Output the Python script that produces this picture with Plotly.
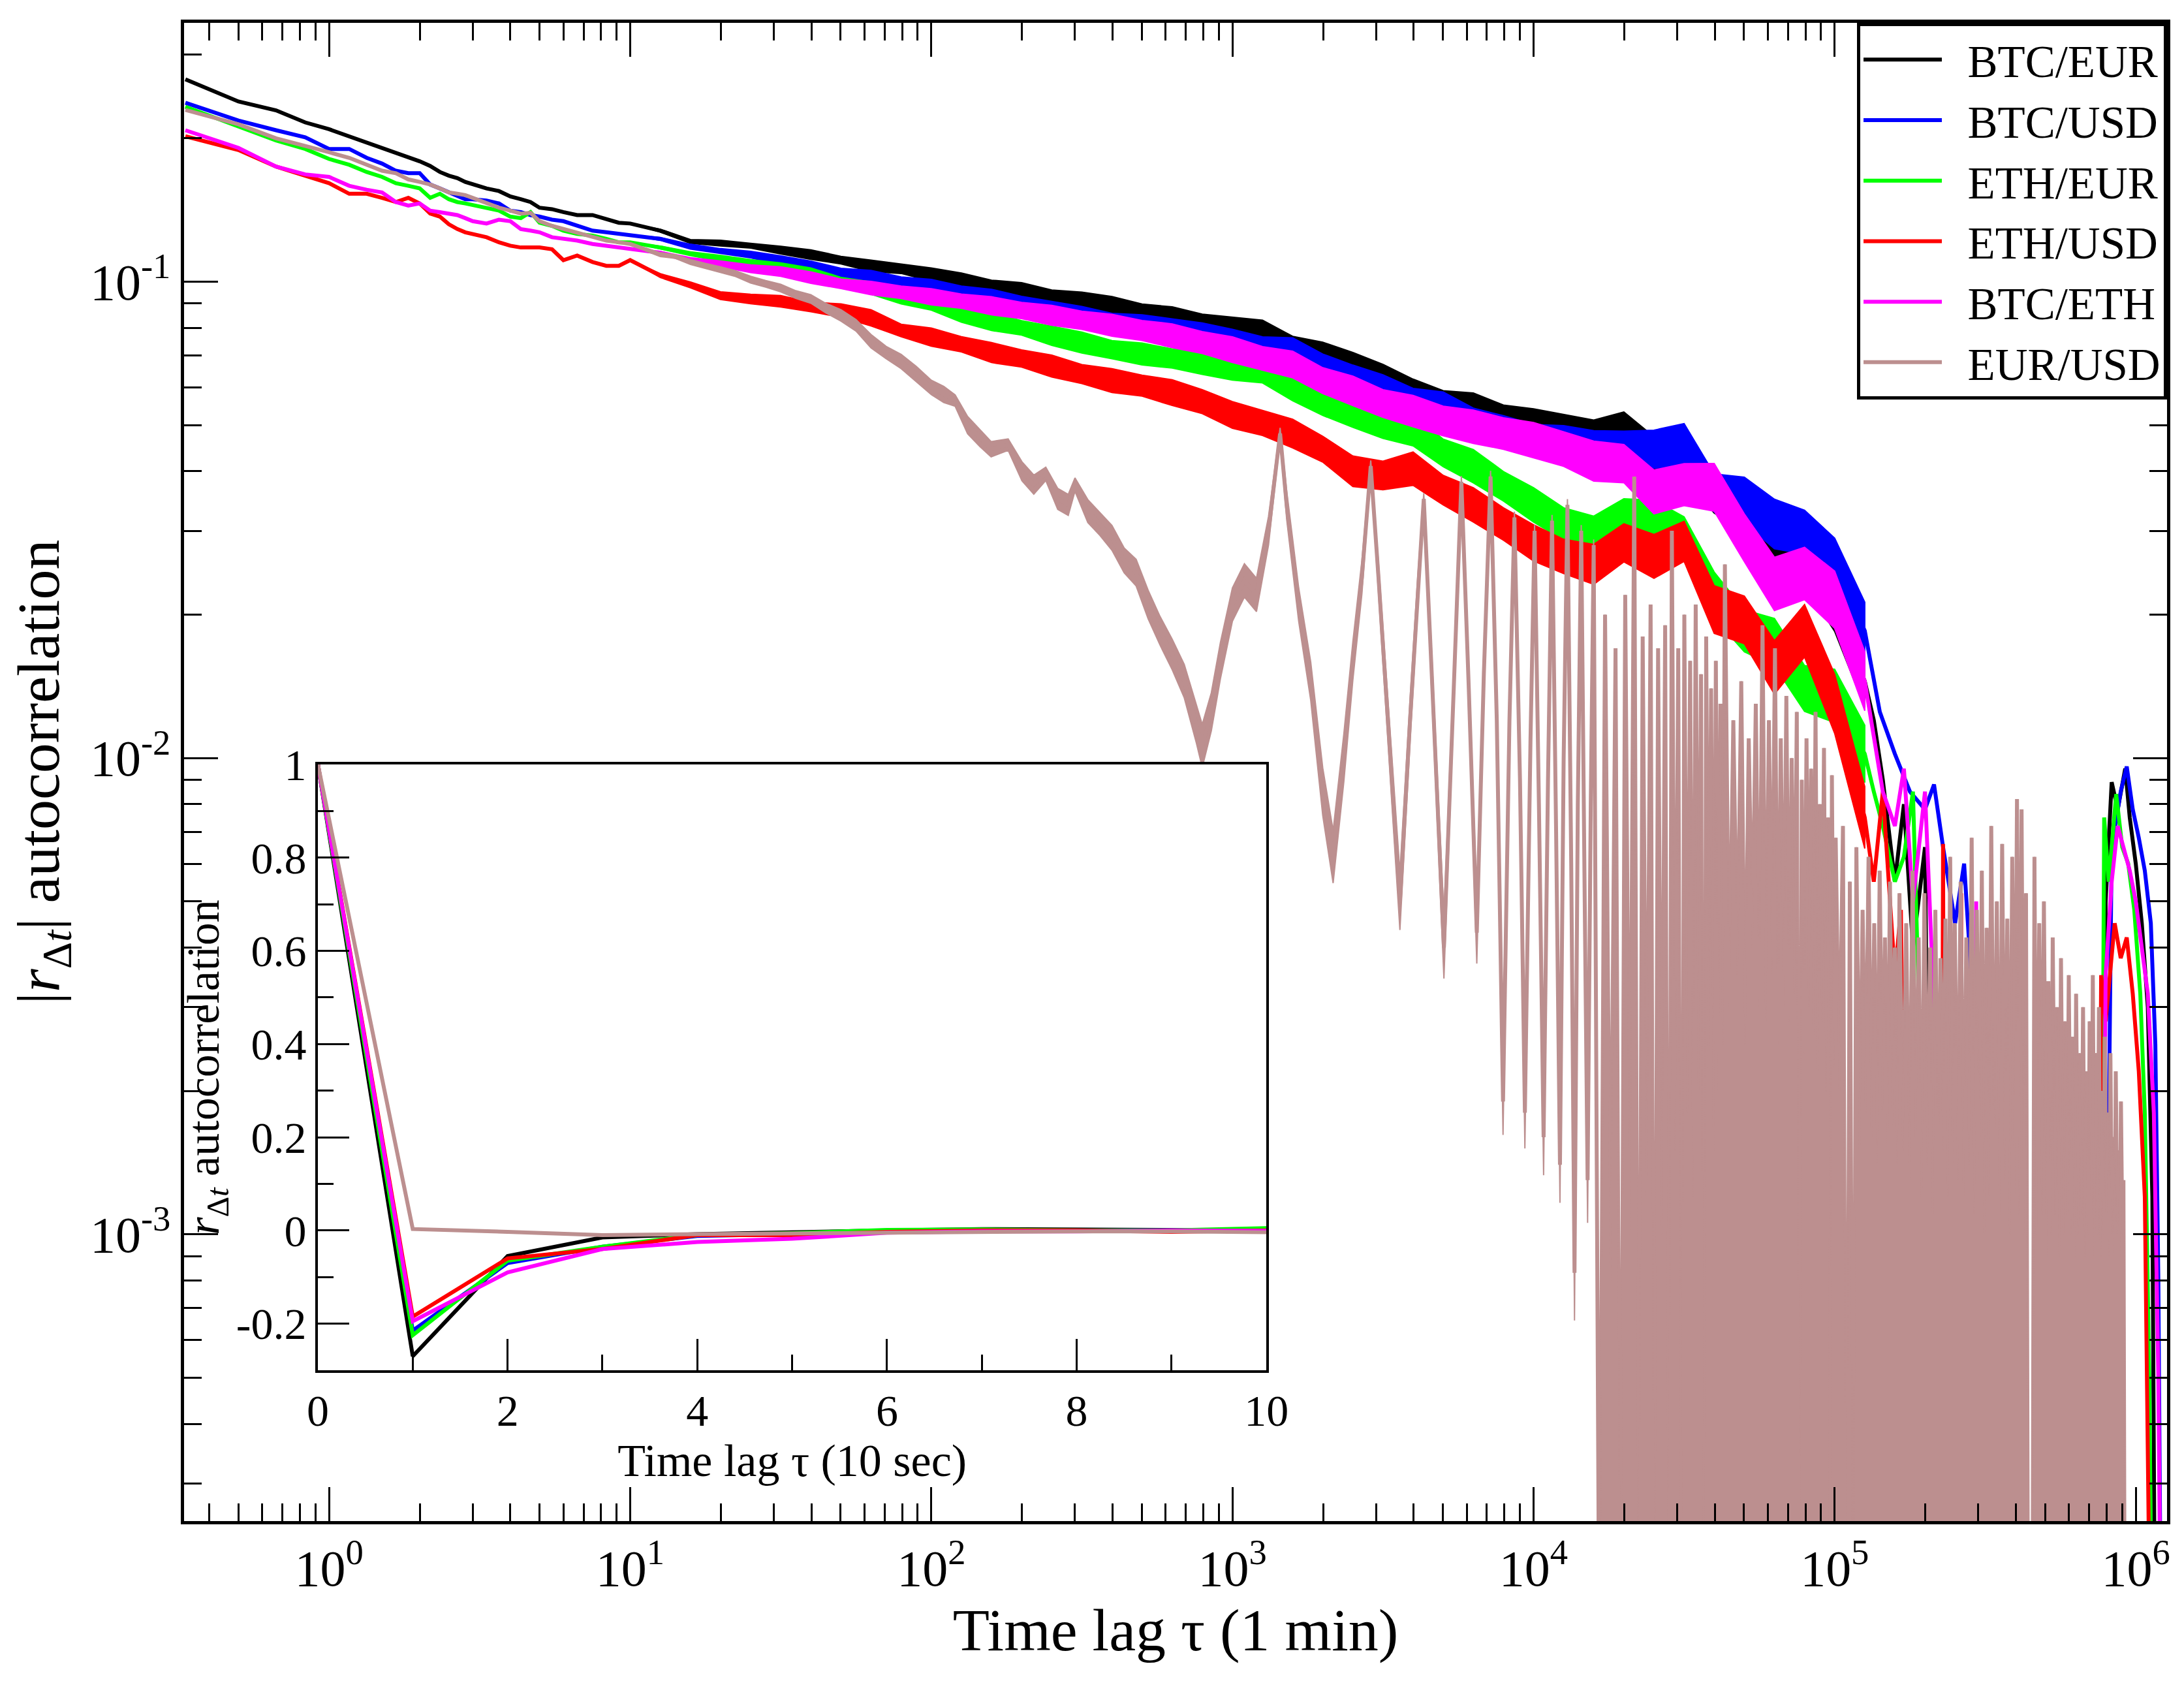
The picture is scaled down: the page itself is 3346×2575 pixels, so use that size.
import plotly.graph_objects as go

FONT = "Liberation Serif"

# ------------------------------------------------------------------
# Main panel data: time lag (minutes) and |r| autocorrelation
# ------------------------------------------------------------------
lag_short = [0.3333, 0.5, 0.6667, 0.8333, 1.0, 1.1667, 1.3333, 1.5, 1.6667, 1.8333,
             2.0, 2.1667, 2.3333, 2.5, 2.6667, 2.8333, 3.0, 3.3333, 3.6667, 4.0,
             4.3333, 4.6667, 5.0, 5.5, 6.0, 6.6667, 7.5, 8.3333, 9.1667, 10.0]

lag_band = [10, 12.59, 15.85, 19.95, 25.12, 31.62, 39.81, 50.12, 63.10, 79.43,
            100, 125.9, 158.5, 199.5, 251.2, 316.2, 398.1, 501.2, 631.0, 794.3,
            1000, 1259, 1585, 1995, 2512, 3162, 3981, 5012, 6310, 7943,
            10000, 12589, 15849, 19953, 25119, 31623, 39811, 50119, 63096, 79433,
            100000, 125893]

# BTC/EUR
btc_eur_short = [.266, .239, .229, .216, .209, .202, .196, .191, .186, .182, .179, .175, .170, .167, .165, .162, .160,
                 .157, .155, .151, .149, .147, .143, .142, .140, .138, .138, .135, .133, .1325]
btc_eur_mid = [.1325, .128, .1215, .1205, .119, .1165, .114, .111, .108, .1065,
               .1035, .1005, .098, .0955, .093, .091, .0885, .0865, .084, .082,
               .080, .078, .0735, .070, .0675, .063, .058, .056, .0545, .052,
               .0505, .0485, .0465, .0495, .0435, .042, .036, .0335, .0285, .026,
               .0207, .0145]
btc_eur_noise = [0, .003, .004, .006, .005, .008, .010, .008, .012, .010,
                 .014, .016, .012, .018, .014, .019, .022, .016, .023, .018,
                 .022, .027, .019, .028, .022, .027, .032, .023, .030, .025,
                 .030, .036, .042, .032, .036, .034, .042, .048, .040, .050,
                 .050, .055]
btc_eur_tail_lag = [134900, 144540, 158490, 169820, 181970, 199530, 213800, 758580, 794330, 831760,
                    870960, 922570, 954990, 1000000, 1047130, 1096480, 1135010, 1161450]
btc_eur_tail = [.012, .009, .0055, .008, .004, .0065, .0001, .0001, .005, .0089,
                .0078, .0095, .0075, .006, .0045, .003, .0012, .0001]

# BTC/USD
btc_usd_short = [.2375, .218, .208, .201, .190, .190, .182, .177, .171, .169, .169, .160, .157, .154, .151, .149, .149,
                 .148, .146, .141, .140, .138, .137, .135, .134, .131, .128, .127, .126, .1253]
btc_usd_mid = [.1253, .123, .1185, .116, .114, .111, .1085, .104, .1025, .100,
               .0975, .095, .0925, .090, .087, .0845, .0825, .081, .080, .0775,
               .075, .073, .0715, .067, .0625, .0595, .0565, .0545, .051, .0485,
               .0466, .0458, .045, .0445, .0445, .0455, .036, .0348, .031, .0298,
               .0255, .0185]
btc_usd_noise = [0, .003, .005, .005, .007, .009, .008, .011, .013, .010,
                 .016, .013, .018, .015, .019, .021, .017, .022, .019, .024,
                 .025, .021, .028, .022, .029, .030, .024, .032, .027, .033,
                 .032, .037, .034, .038, .040, .044, .040, .048, .052, .046,
                 .055, .060]
btc_usd_tail_lag = [141250, 158490, 177830, 199530, 213800, 229090, 251190, 269150, 288400, 316230,
                    776250, 831760, 891250, 933250, 977240, 1023290, 1071520, 1122020, 1161450, 1188500,
                    1216190]
btc_usd_tail = [.0125, .0102, .0085, .0078, .0088, .0065, .0045, .006, .003, .0001,
                .0001, .0065, .0085, .0096, .0078, .0068, .0058, .0045, .0025, .0008,
                .0001]

# ETH/EUR
eth_eur_short = [.233, .212, .198, .190, .181, .176, .170, .166, .161, .159, .157, .150, .153, .149, .147, .146, .145,
                 .143, .141, .137, .136, .140, .133, .131, .128, .126, .125, .123, .121, .121]
eth_eur_mid = [.121, .118, .1145, .112, .1095, .107, .104, .100, .097, .093,
               .090, .0855, .0825, .080, .077, .0745, .072, .0705, .069, .0675,
               .066, .0645, .060, .0555, .053, .050, .0488, .0437, .041, .0372,
               .034, .031, .0295, .0318, .032, .029, .022, .0185, .0175, .014,
               .0135, .0102]
eth_eur_noise = [0, .003, .004, .006, .007, .010, .012, .009, .013, .015,
                 .014, .017, .019, .015, .020, .022, .019, .023, .020, .024,
                 .026, .022, .028, .025, .030, .028, .033, .029, .035, .031,
                 .036, .034, .038, .042, .036, .044, .048, .044, .050, .048,
                 .056, .060]
eth_eur_tail_lag = [134900, 144540, 158490, 169820, 181970, 190550, 199530, 758580, 785240, 812830,
                    860990, 901570, 944060, 988550, 1035140, 1071520, 1109180, 1135010]
eth_eur_tail = [.0085, .0072, .0055, .0062, .0085, .003, .0001, .0001, .0075, .0055,
                .0084, .0065, .006, .0048, .0032, .0018, .0005, .0001]

# ETH/USD
eth_usd_short = [.202, .189, .1745, .167, .161, .153, .153, .150, .147, .150, .146, .139, .137, .132, .129, .127, .126,
                 .124, .121, .119, .118, .118, .118, .117, .111, .1135, .110, .108, .108, .111]
eth_usd_mid = [.111, .103, .0985, .0935, .092, .091, .0885, .087, .084, .079,
               .0765, .0739, .071, .069, .0665, .064, .062, .0605, .0585, .056,
               .0525, .0505, .048, .0445, .040, .0392, .0405, .0365, .034, .031,
               .0283, .0265, .0255, .0283, .0265, .0285, .0205, .0195, .0155, .0185,
               .013, .0075]
eth_usd_noise = [0, .004, .006, .008, .010, .012, .010, .014, .017, .013,
                 .019, .016, .021, .018, .023, .020, .025, .022, .027, .025,
                 .028, .026, .030, .027, .032, .030, .035, .031, .036, .034,
                 .038, .036, .042, .040, .046, .042, .050, .050, .056, .055,
                 .062, .065]
eth_usd_tail_lag = [134900, 144540, 158490, 165960, 177830, 225000, 229090, 233000, 259000, 263030,
                    267000, 741310, 767360, 794330, 851140, 891250, 933250, 977240, 1023290, 1071520,
                    1096480, 1122020]
eth_usd_tail = [.0055, .0085, .0035, .0048, .0001, .0001, .0066, .0001, .0001, .0052,
                .0001, .0001, .0035, .0028, .0045, .0038, .0042, .0032, .0022, .0012,
                .0004, .0001]

# BTC/ETH
btc_eth_short = [.208, .191, .1745, .168, .166, .159, .156, .154, .147, .1445, .146, .141, .140, .139, .138, .136, .134,
                 .1325, .135, .134, .129, .128, .127, .124, .123, .122, .120, .119, .118, .117]
btc_eth_mid = [.117, .115, .111, .109, .1065, .105, .102, .099, .097, .095,
               .093, .091, .089, .087, .085, .083, .081, .079, .077, .0745,
               .072, .069, .067, .062, .059, .0555, .0535, .051, .0496, .048,
               .0465, .0445, .042, .0415, .0362, .0375, .037, .029, .0232, .0244,
               .0215, .0145]
btc_eth_noise = [0, .003, .005, .006, .008, .010, .012, .010, .014, .013,
                 .017, .015, .019, .017, .021, .019, .023, .021, .025, .023,
                 .027, .025, .028, .027, .031, .029, .033, .031, .035, .033,
                 .037, .036, .042, .040, .046, .044, .050, .050, .056, .055,
                 .060, .062]
btc_eth_tail_lag = [134900, 144540, 158490, 169820, 181970, 199530, 213800, 229090, 288400, 295120,
                    302000, 758580, 794330, 831760, 870960, 912010, 954990, 1000000, 1047130, 1096480,
                    1148150, 1188500, 1216190]
btc_eth_tail = [.0112, .0085, .0072, .0095, .005, .0085, .003, .0001, .0001, .005,
                .0001, .0001, .0035, .0055, .0072, .0065, .0058, .005, .004, .0032,
                .0018, .0005, .0001]

# EUR/USD
eur_usd_short = [.2295, .214, .200, .193, .187, .182, .176, .171, .169, .164, .162, .160, .157, .154, .153, .152, .150,
                 .146, .143, .141, .139, .1395, .134, .131, .129, .127, .124, .122, .121, .120]
eur_usd_mid_lag = [11.22, 12.59, 14.13, 15.85, 17.78, 19.95, 22.39, 25.12, 28.18, 31.62,
                   35.48, 39.81, 44.67, 50.12, 56.23, 63.10, 70.79, 79.43, 89.13, 100,
                   110, 120, 132, 145, 158, 180, 200, 219, 240, 263,
                   285, 300, 331, 363, 398, 437, 479, 525, 575, 631,
                   692, 759, 794, 851, 912, 1000, 1096, 1202, 1318, 1440,
                   1514, 1660, 1820, 1995, 2160, 2344, 2512, 2692, 2880, 3055,
                   3311, 3600, 3890, 4121, 4320, 4571, 5040, 5433, 5760, 6095,
                   6480, 6839, 7200, 7551, 7920, 8318, 8640, 9016, 9360, 9772,
                   10080, 10420, 10800, 11170, 11520, 11885, 12240, 12590, 12960, 13340,
                   13680, 14030, 14400, 14790, 15120, 15490, 15840]
eur_usd_mid = [.117, .114, .113, .110, .108, .106, .104, .101, .099, .097,
               .094, .092, .088, .085, .081, .075, .071, .068, .064, .060,
               .058, .0563, .050, .047, .0445, .0455, .040, .0375, .0395, .035,
               .034, .0375, .033, .031, .029, .026, .0245, .021, .0185, .0165,
               .0145, .0118, .0106, .0125, .016, .021, .0236, .022, .030, .048,
               .034, .021, .0145, .0085, .0062, .010, .016, .024, .041, .024,
               .011, .005, .012, .022, .035, .016, .004, .014, .038, .014,
               .0043, .015, .039, .012, .0019, .012, .032, .009, .0018, .011,
               .030, .008, .0016, .009, .0315, .007, .0014, .010, .034, .006,
               .00083, .008, .030, .005, .0013, .008, .028]
eur_usd_noise = [.003, .004, .004, .005, .005, .006, .006, .007, .007, .008,
                 .008, .009, .010, .012, .012, .014, .013, .015, .016, .015,
                 .017, .012, .018, .018, .016, .012, .020, .020, .014, .022,
                 .022, .014, .024, .024, .026, .026, .028, .030, .030, .032,
                 .035, .040, .045, .040, .038, .035, .035, .035, .030, .012,
                 .030, .035, .040, .050, .055, .050, .040, .035, .012, .030,
                 .045, .060, .045, .035, .012, .040, .065, .040, .012, .040,
                 .065, .040, .012, .045, .070, .045, .012, .050, .075, .050,
                 .012, .050, .080, .050, .012, .055, .080, .055, .012, .060,
                 .100, .060, .012, .060, .090, .060, .012]
eur_usd_spike_lag = [16560, 17280, 18000, 18720, 19440, 20160, 20880, 21600, 22320, 23040,
                     23760, 24480, 25200, 25920, 26640, 27360, 28080, 28800, 29520, 30240,
                     30960, 31680, 32400, 33120, 33840, 34560, 35280, 36000, 36720, 37440,
                     38160, 38880, 39600, 40320, 41040, 41760, 42480, 43200,
                     44640, 46080, 47520, 48960, 50400, 51840, 53280, 54720, 56160, 57600,
                     59040, 60480, 61920, 63360, 64800, 66240, 67680, 69120, 70560, 72000,
                     73440, 74880, 76320, 77760, 79200, 80640, 82080, 83520, 84960, 86400,
                     87840, 89280, 90720, 92160, 93600, 95040, 96480, 97920, 99360, 100800,
                     103680, 106560, 109440, 112320, 115200, 118080, 120960, 123840, 126720, 129600,
                     132480, 135360, 138240, 141120, 144000, 146880, 149760, 152640, 155520, 158400,
                     161280, 164160,
                     168480, 172800, 177120, 181440, 185760, 190080, 194400, 198720, 203040, 207360,
                     211680, 216000, 220320, 224640, 228960, 233280, 237600, 241920, 246240, 250560,
                     256320, 262080, 267840, 273600, 279360, 285120, 290880, 296640, 302400, 308160,
                     313920, 319680, 325440, 331200,
                     338400, 345600, 352800, 360000, 367200, 374400, 381600, 388800, 396000, 403200,
                     410400, 417600, 424800, 432000, 439200, 453600, 460800,
                     468000, 478080, 488160, 495360, 505440, 512640, 522720, 529920, 540000, 547200,
                     557280, 564480, 574560, 581760, 591840, 599040, 609120, 616320, 626400, 633600,
                     643680, 650880, 660960, 668160, 678240, 685440, 695520, 702720, 712800, 720000,
                     729360, 737280, 746640, 754560, 763920, 771840, 781200, 789120, 798480, 806400,
                     815760, 823680, 833040, 840960, 850320, 858240, 867600, 875520, 884880, 892800,
                     902160, 910080, 919440]
eur_usd_spike = [.0001, .020, .0008, .017, .0001, .022, .001, .039, .0001, .018,
                 .0012, .021, .0001, .017, .001, .019, .0001, .030, .0015, .017,
                 .0001, .020, .0018, .016, .0012, .021, .002, .015, .0001, .018,
                 .0022, .014, .0015, .016, .002, .013, .0025, .0255,
                 .003, .012, .0035, .0145, .0025, .011, .004, .013, .003, .019,
                 .0028, .012, .0035, .017, .0025, .011, .003, .0135, .0028, .010,
                 .0032, .0125, .0001, .009, .0024, .011, .003, .0095, .0026, .0125,
                 .0022, .008, .0028, .0105, .002, .0075, .0001, .0092, .0022, .0068,
                 .002, .0072, .0001, .0055, .0001, .0065, .0015, .0048, .0018, .0062,
                 .0016, .0045, .0014, .0058, .0018, .0042, .0015, .0055, .0017, .004,
                 .0014, .0052,
                 .0015, .0045, .0013, .0058, .0016, .0042, .0012, .0052, .0014, .004,
                 .0011, .0048, .0013, .0038, .0015, .0046, .0012, .0062, .0014, .0045,
                 .0013, .0055, .0012, .0042, .0014, .0068, .0011, .0048, .0013, .0058,
                 .001, .0044, .0012, .0072,
                 .0012, .005, .0011, .0066, .0013, .0046, .001, .0062, .0012, .0082,
                 .0011, .0078, .001, .0052, .0001, .0001, .0062,
                 .001, .0045, .0011, .005, .0009, .0034, .001, .0042, .0011, .003,
                 .0009, .0038, .001, .0028, .0011, .0035, .001, .0026, .0009, .0032,
                 .001, .0024, .0011, .003, .0009, .0022, .001, .0028, .0011, .0035,
                 .0009, .0024, .001, .003, .0009, .002, .001, .0026, .0011, .0018,
                 .0009, .0024, .001, .0016, .0009, .0022, .001, .0015, .0009, .0019,
                 .001, .0013, .0001]

# ------------------------------------------------------------------
# Inset data: time lag (10 sec units) and signed autocorrelation
# ------------------------------------------------------------------
inset_lag = [0, 1, 2, 3, 4, 5, 6, 7, 8, 9, 10]
inset_btc_eur = [1, -0.27, -0.055, -0.015, -0.008, -0.003, 0.0, 0.003, 0.002, 0.0, 0.0]
inset_btc_usd = [1, -0.215, -0.07, -0.035, -0.012, -0.008, -0.002, 0.0, 0.0, -0.001, 0.0]
inset_eth_eur = [1, -0.225, -0.065, -0.035, -0.01, -0.006, 0.001, 0.002, 0.0, 0.0, 0.005]
inset_eth_usd = [1, -0.185, -0.06, -0.04, -0.01, -0.01, -0.003, 0.0, 0.0, -0.003, 0.0]
inset_btc_eth = [1, -0.195, -0.09, -0.04, -0.025, -0.018, -0.005, -0.002, -0.002, 0.0, -0.001]
inset_eur_usd = [1, 0.003, -0.003, -0.01, -0.008, -0.006, -0.004, -0.002, -0.002, -0.002, -0.004]

# Tick labels
x_tickvals = [1, 10, 100, 1000, 10000, 100000, 1000000]
x_ticktext = ["10<sup>0</sup>", "10<sup>1</sup>", "10<sup>2</sup>", "10<sup>3</sup>",
              "10<sup>4</sup>", "10<sup>5</sup>", "10<sup>6</sup>"]
y_tickvals = [0.001, 0.01, 0.1]
y_ticktext = ["10<sup>-3</sup>", "10<sup>-2</sup>", "10<sup>-1</sup>"]
inset_yticks = [-0.2, 0, 0.2, 0.4, 0.6, 0.8, 1.0]
inset_yticktext = ["-0.2", "0", "0.2", "0.4", "0.6", "0.8", "1"]
inset_xticks = [0, 2, 4, 6, 8, 10]

BROWN = "rgb(188,143,143)"
colors = {"BTC/EUR": "#000000", "BTC/USD": "#0000ff", "ETH/EUR": "#00ff00",
          "ETH/USD": "#ff0000", "BTC/ETH": "#ff00ff", "EUR/USD": BROWN}

crypto = [
    ("BTC/EUR", btc_eur_short, btc_eur_mid, btc_eur_noise, btc_eur_tail_lag, btc_eur_tail),
    ("BTC/USD", btc_usd_short, btc_usd_mid, btc_usd_noise, btc_usd_tail_lag, btc_usd_tail),
    ("ETH/EUR", eth_eur_short, eth_eur_mid, eth_eur_noise, eth_eur_tail_lag, eth_eur_tail),
    ("ETH/USD", eth_usd_short, eth_usd_mid, eth_usd_noise, eth_usd_tail_lag, eth_usd_tail),
    ("BTC/ETH", btc_eth_short, btc_eth_mid, btc_eth_noise, btc_eth_tail_lag, btc_eth_tail),
]

LW = 6
PAD = "\u00a0\u00a0"
fig = go.Figure()


def band(xs, center, noise, color):
    hi = [v * 10 ** h for v, h in zip(center, noise)]
    lo = [v / 10 ** h for v, h in zip(center, noise)]
    return go.Scatter(x=xs + xs[::-1], y=hi + lo[::-1], mode="lines", fill="toself",
                      fillcolor=color, line=dict(color=color, width=2),
                      showlegend=False, hoverinfo="skip")


for name, short, mid, noise, tlag, tail in crypto:
    c = colors[name]
    fig.add_trace(band(lag_band, mid, noise, c))
    fig.add_trace(go.Scatter(x=lag_short + lag_band[1:] + tlag, y=short + mid[1:] + tail,
                             mode="lines", name=PAD + name, line=dict(color=c, width=LW)))

fig.add_trace(band(eur_usd_mid_lag, eur_usd_mid, eur_usd_noise, BROWN))
fig.add_trace(go.Scatter(x=lag_short + eur_usd_mid_lag + eur_usd_spike_lag,
                         y=eur_usd_short + eur_usd_mid + eur_usd_spike,
                         mode="lines", name=PAD + "EUR/USD", line=dict(color=BROWN, width=LW)))
fig.add_trace(go.Scatter(x=eur_usd_spike_lag, y=eur_usd_spike, mode="lines", fill="toself",
                         fillcolor=BROWN, line=dict(color=BROWN, width=2),
                         showlegend=False, hoverinfo="skip"))

inset = [("BTC/EUR", inset_btc_eur), ("BTC/USD", inset_btc_usd), ("ETH/EUR", inset_eth_eur),
         ("ETH/USD", inset_eth_usd), ("BTC/ETH", inset_btc_eth), ("EUR/USD", inset_eur_usd)]
for name, vals in inset:
    fig.add_trace(go.Scatter(x=inset_lag, y=vals, mode="lines", xaxis="x2", yaxis="y2",
                             line=dict(color=colors[name], width=LW), showlegend=False))

# minor tick positions (axis decoration)
x_minor = []
for e in range(-1, 7):
    for m in range(2, 10):
        v = m * 10.0 ** e
        if 0.33 <= v <= 1.27e6:
            x_minor.append(v)
y_minor = []
for e in range(-4, 0):
    for m in range(2, 10):
        v = m * 10.0 ** e
        if 2.5e-4 <= v <= 0.35:
            y_minor.append(v)

axis_common = dict(showline=True, linewidth=5, linecolor="black", mirror="ticks",
                   ticks="inside", ticklen=52, tickwidth=3, tickcolor="black",
                   showgrid=False, zeroline=False, tickfont=dict(size=78, family=FONT))

fig.update_layout(
    width=3346, height=2575,
    margin=dict(l=274, r=34, t=27, b=253, autoexpand=False),
    paper_bgcolor="white", plot_bgcolor="white",
    font=dict(family=FONT, color="black"),
    xaxis=dict(type="log", range=[-0.4815, 6.1038], tickmode="array",
               tickvals=x_tickvals, ticktext=x_ticktext,
               minor=dict(tickmode="array", tickvals=x_minor, ticks="inside", ticklen=27,
                          tickwidth=3, tickcolor="black", showgrid=False),
               title=dict(text="Time lag τ (1 min)", font=dict(size=92, family=FONT), standoff=8),
               automargin=False, **axis_common),
    yaxis=dict(type="log", range=[-3.602, -0.4565], tickmode="array",
               tickvals=y_tickvals, ticktext=y_ticktext,
               minor=dict(tickmode="array", tickvals=y_minor, ticks="inside", ticklen=27,
                          tickwidth=3, tickcolor="black", showgrid=False),
               title=dict(text="|<i>r</i><sub>Δ<i>t</i></sub>| autocorrelation",
                          font=dict(size=92, family=FONT), standoff=20),
               automargin=False, **axis_common),
    xaxis2=dict(domain=[0.0675, 0.5458], anchor="y2", range=[0, 10], tickmode="array",
                tickvals=inset_xticks, ticks="inside", ticklen=48, tickwidth=3, tickcolor="black",
                minor=dict(dtick=1, tick0=0, ticks="inside", ticklen=24, tickwidth=3,
                           tickcolor="black", showgrid=False),
                showline=True, linewidth=4, linecolor="black", mirror=True,
                showgrid=False, zeroline=False, tickfont=dict(size=68, family=FONT),
                title=dict(text="Time lag τ (10 sec)", font=dict(size=70, family=FONT), standoff=4),
                automargin=False),
    yaxis2=dict(domain=[0.1007, 0.505], anchor="x2", range=[-0.3, 1.0], tickmode="array",
                tickvals=inset_yticks, ticktext=inset_yticktext, ticks="inside", ticklen=48,
                tickwidth=3, tickcolor="black",
                minor=dict(dtick=0.1, tick0=0, ticks="inside", ticklen=24, tickwidth=3,
                           tickcolor="black", showgrid=False),
                showline=True, linewidth=4, linecolor="black", mirror=True,
                showgrid=False, zeroline=False, tickfont=dict(size=68, family=FONT),
                title=dict(text="<i>r</i><sub>Δ<i>t</i></sub> autocorrelation",
                           font=dict(size=70, family=FONT), standoff=4),
                automargin=False),
    legend=dict(x=1, y=1, xanchor="right", yanchor="top", bgcolor="white",
                bordercolor="black", borderwidth=5, font=dict(size=69, family=FONT),
                itemwidth=120, tracegroupgap=0),
)

fig.write_html("out.html")
